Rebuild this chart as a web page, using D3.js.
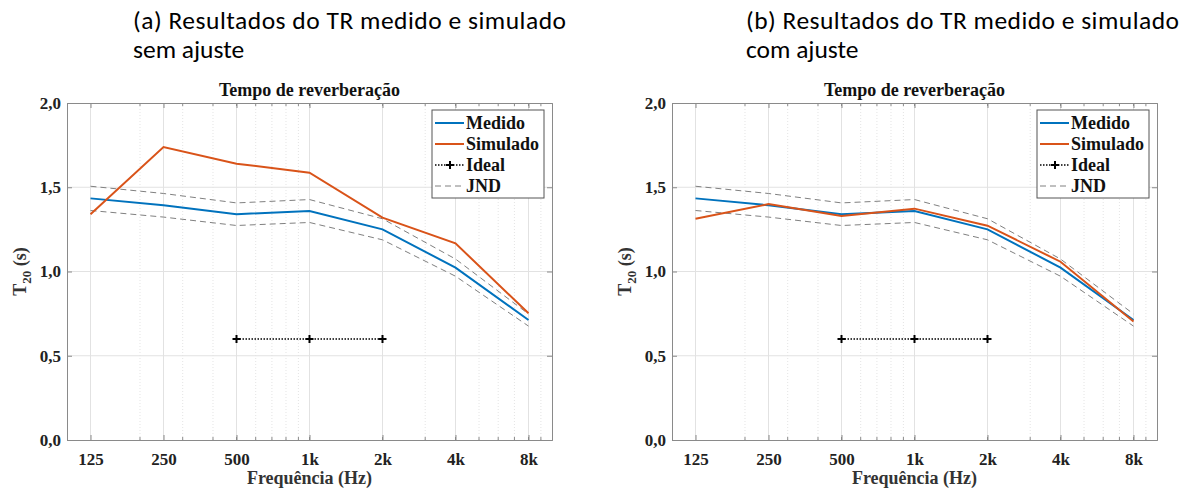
<!DOCTYPE html>
<html><head><meta charset="utf-8">
<script src="https://cdn.jsdelivr.net/npm/d3@7"></script>
<style>body{margin:0;background:#fff}svg{display:block}</style>
</head><body>
<svg id="c" width="1195" height="490"></svg>
<script>
const freqs = [125, 250, 500, 1000, 2000, 4000, 8000];
const tickLabels = ["125", "250", "500", "1k", "2k", "4k", "8k"];
const yTicks = [0, 0.5, 1.0, 1.5, 2.0];
const medido = [1.434, 1.393, 1.340, 1.359, 1.250, 1.023, 0.712];
const simuladoA = [1.340, 1.739, 1.640, 1.586, 1.320, 1.167, 0.752];
const simuladoB = [1.313, 1.400, 1.329, 1.373, 1.272, 1.058, 0.703];
const jndUpper = [1.506, 1.463, 1.407, 1.427, 1.313, 1.074, 0.748];
const jndLower = [1.362, 1.323, 1.273, 1.291, 1.188, 0.972, 0.676];
const idealFreqs = [500, 1000, 2000];
const idealValues = [0.6, 0.6, 0.6];
const legendLabels = ["Medido", "Simulado", "Ideal", "JND"];
const captionA = ["(a) Resultados do TR medido e simulado", "sem ajuste"];
const captionB = ["(b) Resultados do TR medido e simulado", "com ajuste"];
const chartTitle = "Tempo de reverberação";

const svg = d3.select("#c");
const serif = "'Liberation Serif','Times New Roman',serif";
const BLUE = "#0072BD", ORANGE = "#D95319";

function panel(left, sim, caption, capX) {
  const top = 103, bottom = 440, right = left + 485;
  const x = d3.scaleLog().domain([100, 10000]).range([left, right]);
  const y = d3.scaleLinear().domain([0, 2]).range([bottom, top]);
  const g = svg.append("g");

  // caption
  caption.forEach((t, i) => {
    const tx = g.append("text").attr("x", capX).attr("y", 29 + i * 29)
      .attr("font-family", "Carlito, Lato, 'Open Sans', sans-serif")
      .attr("font-size", 25.5).attr("fill", "#000").text(t);
    if (i === 0) tx.attr("textLength", 433).attr("lengthAdjust", "spacing");
  });

  // minor x grid
  const minors = [];
  for (let d = 100; d < 10000; d *= 10) for (let k = 1; k <= 9; k++) minors.push(d * k);
  const inner = minors.filter(v => v > 100 && v < 10000);
  g.append("g").selectAll("line").data(inner).join("line")
    .attr("x1", d => x(d)).attr("x2", d => x(d)).attr("y1", top).attr("y2", bottom)
    .attr("stroke", "#e4e4e4").attr("stroke-width", 1).attr("stroke-dasharray", "1,2");
  // major grid
  g.append("g").selectAll("line").data(freqs).join("line")
    .attr("x1", d => x(d)).attr("x2", d => x(d)).attr("y1", top).attr("y2", bottom)
    .attr("stroke", "#e2e2e2").attr("stroke-width", 1);
  g.append("g").selectAll("line").data(yTicks.slice(1, -1)).join("line")
    .attr("x1", left).attr("x2", right).attr("y1", d => y(d)).attr("y2", d => y(d))
    .attr("stroke", "#e2e2e2").attr("stroke-width", 1);

  // axes
  const ax = g.append("g");
  const yAx = d3.axisLeft(y).tickValues(yTicks).tickSize(-5).tickPadding(6)
    .tickFormat(d => d3.format(".1f")(d).replace(".", ","));
  ax.append("g").attr("transform", `translate(${left},0)`).call(yAx);
  ax.append("g").attr("transform", `translate(${right},0)`)
    .call(d3.axisRight(y).tickValues(yTicks).tickSize(-5).tickFormat(""));
  const xAx = d3.axisBottom(x).tickValues(freqs).tickSize(-5).tickPadding(13)
    .tickFormat((d, i) => tickLabels[i]);
  ax.append("g").attr("transform", `translate(0,${bottom})`).call(xAx);
  ax.append("g").attr("transform", `translate(0,${top})`)
    .call(d3.axisTop(x).tickValues(freqs).tickSize(-5).tickFormat(""));
  ax.selectAll("g").attr("font-family", serif).attr("font-weight", "bold").attr("font-size", 17);
  ax.selectAll(".domain").attr("stroke", "#8a8a8a");
  ax.selectAll(".tick line").attr("stroke", "#8a8a8a");
  ax.selectAll(".tick text").attr("font-family", serif).attr("font-weight", "bold")
    .attr("font-size", 17).attr("fill", "#222");
  // minor ticks on x
  [[bottom, -3], [top, 3]].forEach(([yy, s]) => {
    g.append("g").selectAll("line").data(inner).join("line")
      .attr("x1", d => x(d)).attr("x2", d => x(d)).attr("y1", yy).attr("y2", yy + s)
      .attr("stroke", "#8a8a8a");
  });

  // title
  g.append("text").attr("x", (left + right) / 2).attr("y", 96).attr("text-anchor", "middle")
    .attr("font-family", serif).attr("font-weight", "bold").attr("font-size", 18).attr("fill", "#111").text(chartTitle);
  // x label
  g.append("text").attr("x", (left + right) / 2).attr("y", 484).attr("text-anchor", "middle")
    .attr("font-family", serif).attr("font-weight", "bold").attr("font-size", 18).attr("fill", "#333")
    .text("Frequência (Hz)");
  // y label
  const yl = g.append("text").attr("transform", `translate(${left - 41},${(top + bottom) / 2}) rotate(-90)`)
    .attr("text-anchor", "middle").attr("font-family", serif).attr("font-weight", "bold")
    .attr("font-size", 18).attr("fill", "#333");
  yl.append("tspan").text("T");
  yl.append("tspan").attr("font-size", 13).attr("dy", 5).text("20");
  yl.append("tspan").attr("dy", -5).text(" (s)");

  const line = d3.line().x(d => x(d[0])).y(d => y(d[1]));
  const pair = vals => freqs.map((f, i) => [f, vals[i]]);
  const plot = g.append("g").attr("fill", "none");
  plot.append("path").attr("d", line(pair(jndUpper))).attr("stroke", "#808080").attr("stroke-width", 1).attr("stroke-dasharray", "6,4");
  plot.append("path").attr("d", line(pair(jndLower))).attr("stroke", "#808080").attr("stroke-width", 1).attr("stroke-dasharray", "6,4");
  plot.append("path").attr("d", line(pair(medido))).attr("stroke", BLUE).attr("stroke-width", 2);
  plot.append("path").attr("d", line(pair(sim))).attr("stroke", ORANGE).attr("stroke-width", 2);
  const ideal = idealFreqs.map((f, i) => [f, idealValues[i]]);
  plot.append("path").attr("d", line(ideal)).attr("stroke", "#000").attr("stroke-width", 1.5).attr("stroke-dasharray", "1.5,1.5");
  plot.selectAll(".pm").data(ideal).join("path")
    .attr("d", d => `M${x(d[0]) - 4},${y(d[1])}h8M${x(d[0])},${y(d[1]) - 4}v8`)
    .attr("stroke", "#000").attr("stroke-width", 2);

  // legend
  const lx = right - 120, ly = 110, lw = 112, lh = 88;
  const lg = g.append("g");
  lg.append("rect").attr("x", lx).attr("y", ly).attr("width", lw).attr("height", lh)
    .attr("fill", "#fff").attr("stroke", "#555").attr("stroke-width", 1);
  const styles = [
    {c: BLUE, w: 2, dash: null},
    {c: ORANGE, w: 2, dash: null},
    {c: "#000", w: 1.5, dash: "1.5,1.5", marker: true},
    {c: "#808080", w: 1, dash: "6,4"}
  ];
  legendLabels.forEach((t, i) => {
    const yy = ly + 13 + i * 21;
    lg.append("line").attr("x1", lx + 3).attr("x2", lx + 32).attr("y1", yy).attr("y2", yy)
      .attr("stroke", styles[i].c).attr("stroke-width", styles[i].w)
      .attr("stroke-dasharray", styles[i].dash);
    if (styles[i].marker) {
      lg.append("path").attr("d", `M${lx + 14},${yy}h8M${lx + 18},${yy - 4}v8`).attr("stroke", "#000").attr("stroke-width", 2);
    }
    lg.append("text").attr("x", lx + 34).attr("y", yy + 6).attr("font-family", serif)
      .attr("font-weight", "bold").attr("font-size", 18).attr("fill", "#111").text(t);
  });
}

panel(67, simuladoA, captionA, 133);
panel(672, simuladoB, captionB, 746);
</script>
</body></html>
